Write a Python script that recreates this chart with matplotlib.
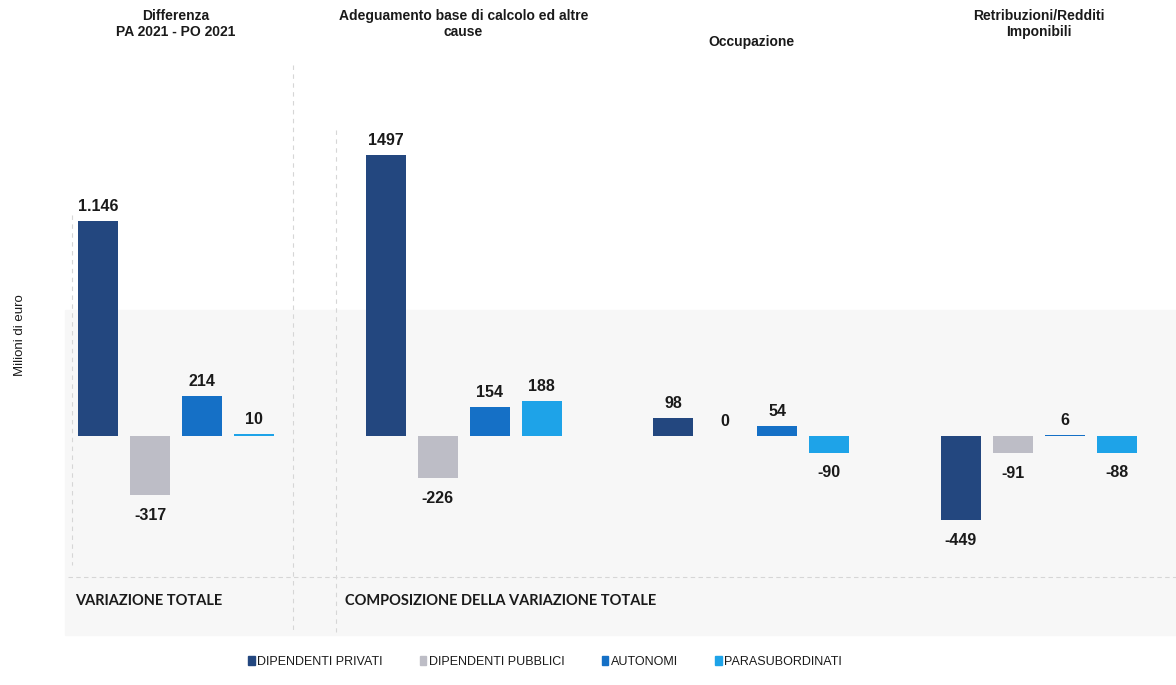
import numpy as np
import matplotlib.pyplot as plt
from matplotlib.patches import Patch, Rectangle
from matplotlib.lines import Line2D

plt.rcParams['font.family'] = ['Liberation Sans', 'DejaVu Sans']

panels = ["Differenza\nPA 2021 - PO 2021",
          "Adeguamento base di calcolo ed altre\ncause",
          "Occupazione",
          "Retribuzioni/Redditi\nImponibili"]
series = ["DIPENDENTI PRIVATI", "DIPENDENTI PUBBLICI", "AUTONOMI", "PARASUBORDINATI"]
values = np.array([
    [1146, -317, 214, 10],
    [1497, -226, 154, 188],
    [98, 0, 54, -90],
    [-449, -91, 6, -88],
])
labels = [["1.146", "-317", "214", "10"],
          ["1497", "-226", "154", "188"],
          ["98", "0", "54", "-90"],
          ["-449", "-91", "6", "-88"]]
colors = ["#23477f", "#bdbdc6", "#1570c6", "#1ea3e8"]

W, H = 1176, 685
fig = plt.figure(figsize=(W / 100, H / 100), dpi=100)
ax = fig.add_axes([0, 0, 1, 1])
# pixel mapping: x_px = 98 + 52*pos, baseline at y_px=436, 0.1875 px per unit
ax.set_xlim(-98 / 52, (W - 98) / 52)
ax.set_ylim(-(H - 436) / 0.1875, 436 / 0.1875)
ax.axis('off')


def fx(px):
    return px / W


def fy(py):
    return 1 - py / H


# faint scanned background and frame lines
ax.add_patch(Rectangle((fx(65), fy(635)), fx(W) - fx(65), fy(310) - fy(635),
                       transform=fig.transFigure, color="#f7f7f7", zorder=0))
line_kw = dict(transform=fig.transFigure, color="#d6d6d6", lw=0.8, zorder=1)
ax.add_line(Line2D([fx(68), fx(W)], [fy(577), fy(577)], ls=(0, (4, 3)), **line_kw))
ax.add_line(Line2D([fx(72), fx(72)], [fy(215), fy(565)], ls=(0, (4, 4)), **line_kw))
ax.add_line(Line2D([fx(293), fx(293)], [fy(65), fy(632)], ls=(0, (4, 4)), **line_kw))
ax.add_line(Line2D([fx(336), fx(336)], [fy(130), fy(632)], ls=(0, (4, 4)), **line_kw))

width = 0.77
for g, (title, vals, labs) in enumerate(zip(panels, values, labels)):
    pos = g * 5.53 + np.arange(len(series))
    ax.bar(pos, vals, width=width, color=colors, zorder=3)
    for x, v, lab in zip(pos, vals, labs):
        above = v >= 0
        ax.annotate(lab, (x, v), xytext=(0, 5 if above else -9), textcoords='offset points',
                    ha='center', va='bottom' if above else 'top',
                    fontsize=11.5, fontweight='bold', color="#1a1a1a", zorder=4)
    title_y = 42 if "\n" not in title else 24
    fig.text(fx(98 + 52 * pos.mean()), fy(title_y), title, ha='center', va='center',
             fontsize=10, fontweight='bold', color="#1a1a1a", linespacing=1.1)

fig.text(fx(20), fy(335), "Milioni di euro", rotation=90, ha='center', va='center',
         fontsize=9.5, color="#1a1a1a")

fig.text(fx(75), fy(601), "VARIAZIONE TOTALE", ha='left', va='center',
         fontsize=10.5, fontweight='bold', color="#1a1a1a", family=['Lato', 'DejaVu Sans'])
fig.text(fx(345), fy(601), "COMPOSIZIONE DELLA VARIAZIONE TOTALE", ha='left', va='center',
         fontsize=10.5, fontweight='bold', color="#1a1a1a", family=['Lato', 'DejaVu Sans'])

handles = [Patch(color=c) for c in colors]
fig.legend(handles, series, loc='center', bbox_to_anchor=(fx(545), fy(662)), ncol=4,
           frameon=False, handlelength=0.5, handleheight=0.7, handletextpad=0.2,
           columnspacing=3.0, fontsize=9, labelcolor="#1a1a1a")

fig.savefig("out.png", dpi=100)
